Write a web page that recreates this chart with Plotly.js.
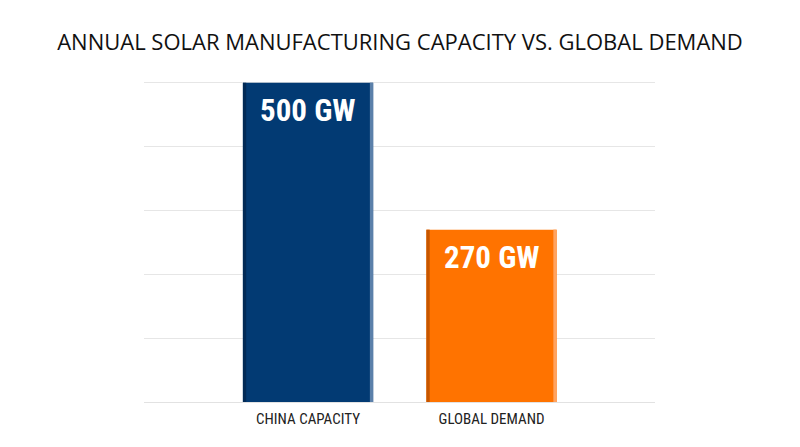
<!DOCTYPE html>
<html>
<head>
<meta charset="utf-8">
<script src="https://cdn.plot.ly/plotly-3.0.1.min.js"></script>
<style>
  html, body { margin: 0; padding: 0; background: #fff; }
  #chart { width: 800px; height: 447px; }
</style>
</head>
<body>
<div id="chart"></div>
<script>
// data
categories = ["CHINA CAPACITY", "GLOBAL DEMAND"];
values = [500, 270];
valueLabels = ["500 GW", "270 GW"];
barColors = ["#023a73", "#ff7300"];
edgeDark = ["#012a56", "#c65600"];
edgeLight = ["#5b80aa", "#ffa360"];

var condensed = "Liberation Sans Narrow, Roboto Condensed, Roboto, sans-serif";
var barWidth = 0.71;

function edgeTrace(colors, offset){
    return {
        x: categories,
        y: values,
        type: 'bar',
        width: 0.018,
        offset: offset,
        marker: {color: colors},
        hoverinfo: 'skip',
        showlegend: false
    };
}

var main = {
    x: categories,
    y: values,
    type: 'bar',
    width: barWidth,
    marker: {color: barColors},
    textposition: 'none',
    showlegend: false
};

var annotations = [];
for(var i = 0; i < categories.length; i++){
    annotations.push({
        x: categories[i],
        y: values[i],
        text: valueLabels[i],
        showarrow: false,
        yanchor: 'top',
        yshift: -7,
        font: {family: condensed, size: 31, color: '#ffffff', weight: 700}
    });
}

var layout = {
    width: 800,
    height: 447,
    margin: {l: 144, r: 145, t: 79, b: 45},
    paper_bgcolor: '#ffffff',
    plot_bgcolor: '#ffffff',
    barmode: 'overlay',
    title: {
        text: "ANNUAL SOLAR MANUFACTURING CAPACITY VS. GLOBAL DEMAND",
        x: 0.5,
        xanchor: 'center',
        y: 0.905,
        yanchor: 'middle',
        font: {family: "Open Sans, sans-serif", size: 22, color: '#111111', weight: 400}
    },
    xaxis: {
        range: [-0.894, 1.891],
        showgrid: false,
        zeroline: false,
        showline: false,
        ticks: '',
        ticklabelstandoff: 6,
        tickfont: {family: condensed, size: 15, color: '#222222', weight: 400}
    },
    yaxis: {
        range: [0, 506],
        tick0: 0,
        dtick: 100,
        showgrid: true,
        gridcolor: '#e6e6e6',
        gridwidth: 1,
        zeroline: true,
        zerolinecolor: '#e2e2e2',
        zerolinewidth: 1,
        showticklabels: false,
        ticks: ''
    },
    annotations: annotations
};

Plotly.newPlot('chart', [
    main,
    edgeTrace(edgeDark, -barWidth/2),
    edgeTrace(edgeLight, barWidth/2 - 0.018)
], layout, {staticPlot: true});
</script>
</body>
</html>
